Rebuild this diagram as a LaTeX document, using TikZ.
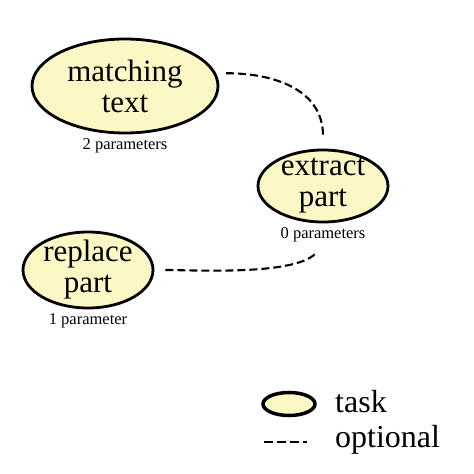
\documentclass[tikz,border=0pt]{standalone}
\usepackage{fontspec}
\setmainfont{Liberation Serif}
\usetikzlibrary{shapes.geometric, positioning}
\definecolor{taskfill}{RGB}{252,248,198}
\tikzset{task/.style={ellipse, draw, line width=2.8pt, fill=taskfill, inner sep=-20pt, align=center, font=\fontsize{31}{31}\selectfont},
  params/.style={font=\fontsize{16.5}{18}\selectfont, inner sep=1pt},
  opt/.style={dash pattern=on 8pt off 4pt, line width=2.1pt}}

\begin{document}
\begin{tikzpicture}[x=1pt, y=1pt]
            \useasboundingbox (0,0) rectangle (474,474);
            \node[task, minimum width=186pt, minimum height=94pt] (match) at (125,388) {matching\\text};
            \node[params, below=3pt of match] (matchp) {2 parameters};
            \node[task, minimum width=130pt, minimum height=72pt] (extract) at (323,288) {extract\\part};
            \node[params, below=3pt of extract] (extractp) {0 parameters};
            \node[task, minimum width=130pt, minimum height=76pt] (replace) at (88,204) {replace\\part};
            \node[params, below=3pt of replace] (replacep) {1 parameter};
            \draw[opt, shorten <=10pt, shorten >=13pt] (match.8) to[out=0, in=90, looseness=1.15] (extract.north);
            \draw[opt, shorten <=11pt, shorten >=10pt] (replace.east) to[out=0, in=-125, looseness=0.6] (extractp.south);
            % legend
            \node[task, line width=3.5pt, minimum width=52pt, minimum height=23pt] (legtask) at (289,70) {};
            \node[anchor=base west, font=\fontsize{32}{32}\selectfont, inner sep=0pt] (legtasktext) at (335,61) {task};
            \coordinate (legopta) at (264,32);
            \coordinate (legoptb) at (307,32);
            \draw[dash pattern=on 9pt off 4pt, line width=2pt] (legopta) -- (legoptb);
            \node[anchor=base west, font=\fontsize{32}{32}\selectfont, inner sep=0pt] (legopttext) at (335,26) {optional};
        \end{tikzpicture}
\end{document}
